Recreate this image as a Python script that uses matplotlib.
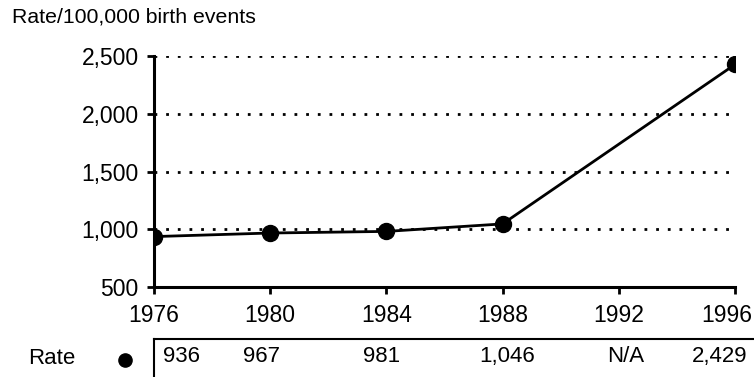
import matplotlib.pyplot as plt
import matplotlib.transforms as mtransforms

plt.rcParams['font.family'] = ['Liberation Sans', 'DejaVu Sans']

years = [1976, 1980, 1984, 1988, 1996]
rates = [936, 967, 981, 1046, 2429]
table_years = [1976, 1980, 1984, 1988, 1992, 1996]
table_labels = ['936', '967', '981', '1,046', 'N/A', '2,429']
y_ticks = [500, 1000, 1500, 2000, 2500]
y_ticklabels = ['500', '1,000', '1,500', '2,000', '2,500']

fig = plt.figure(figsize=(7.54, 3.77), dpi=100)
ax = fig.add_axes([0.204, 0.239, 0.771, 0.612])

# dotted reference lines
for v in y_ticks[1:]:
    ax.axhline(v, color='black', linestyle=(0, (1, 3.2)), linewidth=2, zorder=1)

ax.plot(years, rates, color='black', linewidth=2, marker='o', markersize=11.5, zorder=3)

ax.set_xlim(1976, 1996)
ax.set_ylim(500, 2500)
ax.set_xticks(table_years)
ax.set_yticks(y_ticks)
ax.set_yticklabels(y_ticklabels)
ax.tick_params(axis='both', labelsize=16.5, width=2, length=5, color='black')
ax.tick_params(axis='y', pad=6)
ax.tick_params(axis='x', pad=7)
for s in ['top', 'right']:
    ax.spines[s].set_visible(False)
for s in ['left', 'bottom']:
    ax.spines[s].set_linewidth(2.2)

# last x label sits a little left so it stays inside the figure
last = ax.get_xticklabels()[-1]
last.set_transform(last.get_transform() + mtransforms.ScaledTranslation(-0.08, 0, fig.dpi_scale_trans))

fig.text(0.016, 0.955, 'Rate/100,000 birth events', fontsize=15.3, va='center', ha='left')

# data table under the chart
trans = mtransforms.blended_transform_factory(ax.transData, fig.transFigure)
ax.plot([1976, 1999], [0.10, 0.10], transform=trans, color='black', linewidth=1.5, clip_on=False)
ax.plot([1976, 1976], [0.10, 0.0], transform=trans, color='black', linewidth=1.5, clip_on=False)
for i, (yr, lab) in enumerate(zip(table_years, table_labels)):
    if i == 0:
        x, ha = yr + 0.3, 'left'
    elif i == len(table_years) - 1:
        x, ha = yr + 0.42, 'right'
    else:
        x, ha = yr + [0, -0.3, -0.15, 0.17, 0.25][i], 'center'
    ax.text(x, 0.055, lab, transform=trans, ha=ha, va='center', fontsize=16)
fig.text(0.069, 0.05, 'Rate', fontsize=16, ha='center', va='center')
fig.lines.append(plt.Line2D([0.166], [0.045], transform=fig.transFigure, marker='o',
                            markersize=9.5, color='black'))

fig.savefig('out.png', dpi=100)
